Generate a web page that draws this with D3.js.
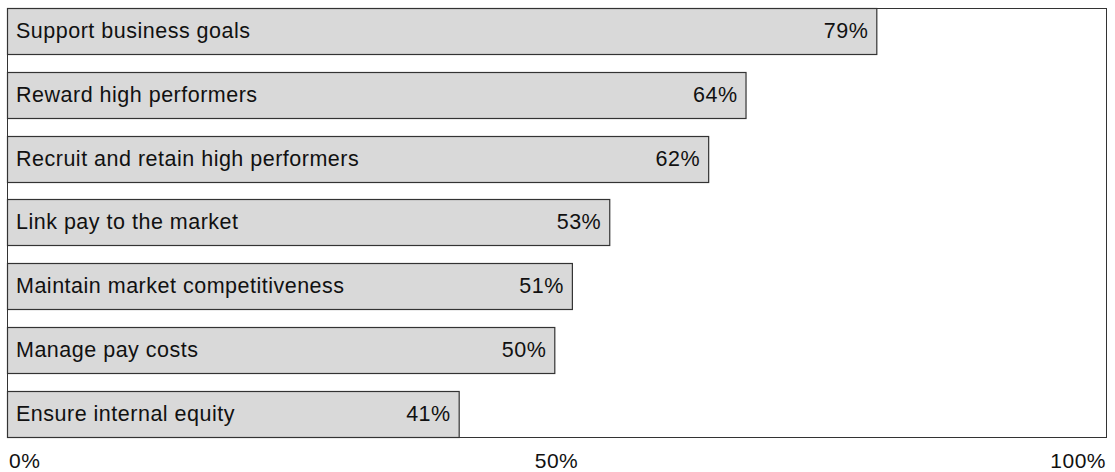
<style>body{margin:0;}</style>
<script src='https://d3js.org/d3.v7.min.js'></script>
<svg id='chart' style='background-color:white;display:block;'></svg>
<script>
var categories=['Support business goals','Reward high performers','Recruit and retain high performers',
                'Link pay to the market','Maintain market competitiveness','Manage pay costs','Ensure internal equity'];
var values=[79.1,67.2,63.8,54.8,51.4,49.8,41.1];
var valueLabels=['79%','64%','62%','53%','51%','50%','41%'];
var tickValues=[0,50,100];
var tickLabels=['0%','50%','100%'];

var W=1115,H=472,m={top:9,right:8,bottom:34,left:8},
    w=W-m.left-m.right,h=H-m.top-m.bottom;
var svg=d3.select('#chart').attr('width',W).attr('height',H)
          .style('font-family','Arial, "Liberation Sans", sans-serif')
          .style('letter-spacing','0.5px');
var g=svg.append('g').attr('transform','translate('+m.left+','+m.top+')');
var x=d3.scaleLinear().domain([0,100]).range([0,w]),
    y=d3.scaleBand().domain(categories).range([0,h]).paddingInner(0.276).paddingOuter(0);

g.append('rect').attr('x',-0.5).attr('y',-0.5).attr('width',w).attr('height',h)
 .attr('fill','white').attr('stroke','#333').attr('stroke-width',1);

var bars=g.selectAll('.bar').data(categories).enter().append('g').attr('class','bar');
bars.append('rect')
    .attr('x',-0.5).attr('y',function(d){return Math.round(y(d))-0.5;})
    .attr('width',function(d,i){return x(values[i]);})
    .attr('height',Math.round(y.bandwidth()))
    .attr('fill','#d9d9d9').attr('stroke','#333').attr('stroke-width',1.2);
bars.append('text')
    .attr('x',8).attr('y',function(d){return y(d)+y.bandwidth()/2;})
    .attr('dy','0.27em').attr('font-size',21.5).attr('fill','#111')
    .text(function(d){return d;});
bars.append('text')
    .attr('x',function(d,i){return x(values[i])-9;})
    .attr('y',function(d){return y(d)+y.bandwidth()/2;})
    .attr('dy','0.27em').attr('text-anchor','end').attr('font-size',21.5).attr('fill','#111')
    .text(function(d,i){return valueLabels[i];});

g.selectAll('.tick').data(tickValues).enter().append('text').attr('class','tick')
 .attr('x',function(d){return x(d);}).attr('y',h+30)
 .attr('text-anchor',function(d,i){return i==0?'start':(i==tickValues.length-1?'end':'middle');})
 .attr('dx',function(d,i){return i==0?1:-1;})
 .attr('font-size',21).attr('fill','#111')
 .text(function(d,i){return tickLabels[i];});
</script>
